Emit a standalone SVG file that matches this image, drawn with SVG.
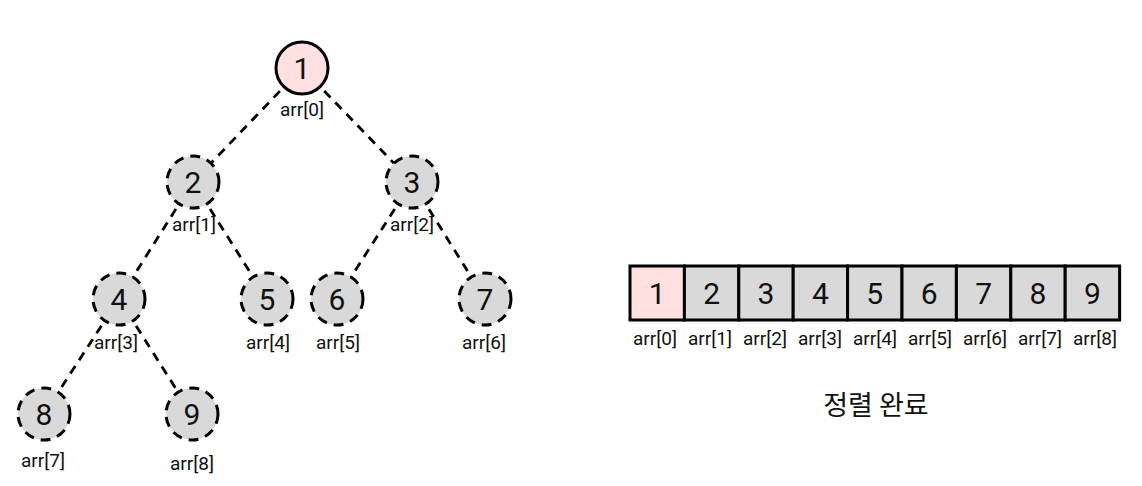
<svg xmlns="http://www.w3.org/2000/svg" width="1142" height="486" viewBox="0 0 1142 486">
<style>
.edge{stroke:#000;stroke-width:2.8;stroke-dasharray:9,7;fill:none}
.nd{fill:#d9d9d9;stroke:#000;stroke-width:3;stroke-dasharray:10,7}
.root{fill:#ffe0e0;stroke:#000;stroke-width:3}
.num{font-family:Roboto,"Noto Sans CJK KR",sans-serif;font-size:30px;fill:#111;text-anchor:middle;dominant-baseline:central}
.lbl{font-family:Roboto,"Noto Sans CJK KR",sans-serif;font-size:19px;fill:#111;text-anchor:middle;dominant-baseline:central}
.cell{fill:#d9d9d9;stroke:#000;stroke-width:3}
.cell0{fill:#ffe0e0;stroke:#000;stroke-width:3}
.title{font-family:"Noto Sans CJK KR",sans-serif;font-size:27px;fill:#111;text-anchor:middle;dominant-baseline:central}
</style>
<rect width="1142" height="486" fill="#fff"/>
<g id="connectors">
<line class="edge" x1="302" y1="68" x2="193" y2="182"/>
<line class="edge" x1="302" y1="68" x2="412" y2="182"/>
<line class="edge" x1="193" y1="182" x2="119" y2="299"/>
<line class="edge" x1="193" y1="182" x2="267" y2="299"/>
<line class="edge" x1="412" y1="182" x2="337" y2="299"/>
<line class="edge" x1="412" y1="182" x2="485" y2="299"/>
<line class="edge" x1="119" y1="299" x2="44" y2="414"/>
<line class="edge" x1="119" y1="299" x2="192" y2="414"/>
</g>
<g id="node1"><circle class="root" cx="302" cy="68" r="26"/><text class="num" x="302" y="68">1</text><text class="lbl" x="302" y="109">arr[0]</text></g>
<g id="node2"><circle class="nd" cx="193" cy="182" r="26"/><text class="num" x="193" y="182">2</text><text class="lbl" x="194" y="224">arr[1]</text></g>
<g id="node3"><circle class="nd" cx="412" cy="182" r="26"/><text class="num" x="412" y="182">3</text><text class="lbl" x="412" y="224">arr[2]</text></g>
<g id="node4"><circle class="nd" cx="119" cy="299" r="26"/><text class="num" x="119" y="299">4</text><text class="lbl" x="116" y="342">arr[3]</text></g>
<g id="node5"><circle class="nd" cx="267" cy="299" r="26"/><text class="num" x="267" y="299">5</text><text class="lbl" x="268" y="342">arr[4]</text></g>
<g id="node6"><circle class="nd" cx="337" cy="299" r="26"/><text class="num" x="337" y="299">6</text><text class="lbl" x="338" y="342">arr[5]</text></g>
<g id="node7"><circle class="nd" cx="485" cy="299" r="26"/><text class="num" x="485" y="299">7</text><text class="lbl" x="484" y="342">arr[6]</text></g>
<g id="node8"><circle class="nd" cx="44" cy="414" r="26"/><text class="num" x="44" y="414">8</text><text class="lbl" x="43" y="460">arr[7]</text></g>
<g id="node9"><circle class="nd" cx="192" cy="414" r="26"/><text class="num" x="192" y="414">9</text><text class="lbl" x="192" y="463">arr[8]</text></g>
<g id="array">
<rect class="cell0" x="630" y="266" width="54.4" height="54"/>
<rect class="cell" x="684.4" y="266" width="54.4" height="54"/>
<rect class="cell" x="738.8" y="266" width="54.4" height="54"/>
<rect class="cell" x="793.2" y="266" width="54.4" height="54"/>
<rect class="cell" x="847.6" y="266" width="54.4" height="54"/>
<rect class="cell" x="902" y="266" width="54.4" height="54"/>
<rect class="cell" x="956.4" y="266" width="54.4" height="54"/>
<rect class="cell" x="1010.8" y="266" width="54.4" height="54"/>
<rect class="cell" x="1065.2" y="266" width="54.4" height="54"/>
<text class="num" x="657.2" y="293">1</text>
<text class="num" x="711.6" y="293">2</text>
<text class="num" x="766" y="293">3</text>
<text class="num" x="820.4" y="293">4</text>
<text class="num" x="874.8" y="293">5</text>
<text class="num" x="929.2" y="293">6</text>
<text class="num" x="983.6" y="293">7</text>
<text class="num" x="1038" y="293">8</text>
<text class="num" x="1092.4" y="293">9</text>
<text class="lbl" x="655" y="338">arr[0]</text>
<text class="lbl" x="710" y="338">arr[1]</text>
<text class="lbl" x="765" y="338">arr[2]</text>
<text class="lbl" x="820" y="338">arr[3]</text>
<text class="lbl" x="875" y="338">arr[4]</text>
<text class="lbl" x="930" y="338">arr[5]</text>
<text class="lbl" x="985" y="338">arr[6]</text>
<text class="lbl" x="1040" y="338">arr[7]</text>
<text class="lbl" x="1095" y="338">arr[8]</text>
</g>
<g id="caption"><text class="title" x="876" y="403">정렬 완료</text></g>
</svg>
